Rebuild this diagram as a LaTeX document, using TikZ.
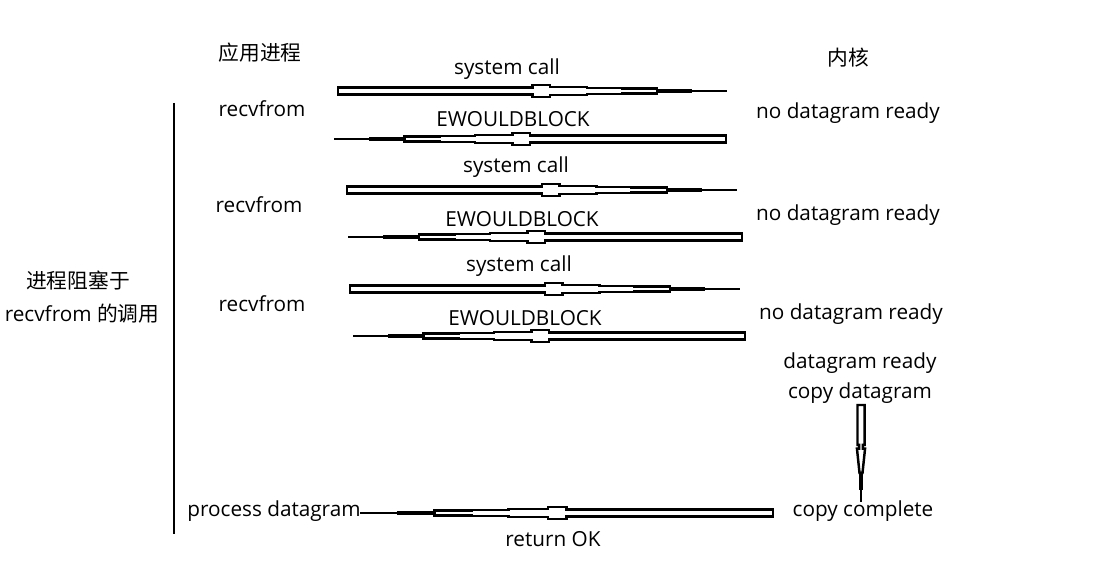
\documentclass[tikz,border=0pt]{standalone}
\usepackage{fontspec}
\setmainfont{Open Sans}
\newfontfamily\cjk{Noto Sans CJK SC}
\usetikzlibrary{calc}

% hollow hand-drawn arrow, wide at the tail #1, thin at the head #2
\newcommand{\pipe}[2]{%
  \draw[pipe out] let \p1=(#1), \p2=(#2),
      \n1={atan2(\y2-\y1,\x2-\x1)}, \n2={veclen(\x2-\x1,\y2-\y1)} in
    [shift={(\p1)},rotate=\n1]
    (0pt,2.0pt) -- ({0.50*\n2},2.0pt) -- ({0.50*\n2},3.5pt) -- ({0.545*\n2},3.5pt)
    -- ({0.545*\n2},2.3pt) -- ({0.64*\n2},2.3pt) -- ({0.64*\n2},1.8pt) -- ({0.73*\n2},1.8pt)
    -- ({0.73*\n2},1.3pt) -- ({0.82*\n2},1.3pt)
    -- ({0.82*\n2},-1.3pt) -- ({0.73*\n2},-1.3pt) -- ({0.73*\n2},-1.8pt) -- ({0.64*\n2},-1.8pt)
    -- ({0.64*\n2},-2.3pt) -- ({0.545*\n2},-2.3pt) -- ({0.545*\n2},-3.5pt) -- ({0.50*\n2},-3.5pt)
    -- ({0.50*\n2},-2.0pt) -- (0pt,-2.0pt) -- cycle
    ({0.82*\n2},0pt) coordinate (pipeA) ({0.91*\n2},0pt) coordinate (pipeB) (\n2,0pt) coordinate (pipeC);
  \draw[line width=2.6pt] (pipeA) -- (pipeB);
  \draw[line width=1.4pt] (pipeB) -- (pipeC);
}

% the short one going down, with a pointed hollow head
\newcommand{\droparrow}[2]{%
  \draw[pipe out] let \p1=(#1), \p2=(#2),
      \n1={atan2(\y2-\y1,\x2-\x1)}, \n2={veclen(\x2-\x1,\y2-\y1)} in
    [shift={(\p1)},rotate=\n1]
    (0pt,2.0pt) -- ({0.41*\n2},2.0pt) -- ({0.41*\n2},1.1pt) -- ({0.45*\n2},1.1pt)
    -- ({0.45*\n2},2.3pt) -- ({0.70*\n2},0.85pt) -- ({0.70*\n2},-0.85pt) -- ({0.45*\n2},-2.3pt)
    -- ({0.45*\n2},-1.1pt) -- ({0.41*\n2},-1.1pt) -- ({0.41*\n2},-2.0pt) -- (0pt,-2.0pt) -- cycle
    ({0.70*\n2},0pt) coordinate (pipeA) ({0.88*\n2},0pt) coordinate (pipeB) (\n2,0pt) coordinate (pipeC);
  \draw[line width=2.3pt] (pipeA) -- (pipeB);
  \draw[line width=1.4pt] (pipeB) -- (pipeC);
}

\begin{document}
\begin{tikzpicture}[x=0.02cm,y=-0.02cm,font=\fontsize{11.8}{14}\selectfont,
      pipe out/.style={draw,fill=white,line width=1.4pt,line join=miter}]
  \useasboundingbox (0,0) rectangle (1105,567);

  \node (app) at (260,53) {\cjk 应用进程};
  \node (kern) at (848,58) {\cjk 内核};

  % first try
  \node (call1) at (507,69) {system call};
  \node (recv1) at (262,109) {recvfrom};
  \node (idle1) at (848,113) {no datagram ready};
  \node (wb1) at (513,119) {EWOULDBLOCK};
  \coordinate (s1) at (338,91);  \coordinate (k1) at (727,91);
  \coordinate (b1) at (726,139); \coordinate (r1) at (334,139);
  \pipe{s1}{k1} \pipe{b1}{r1}

  % second try
  \node (call2) at (516,167) {system call};
  \node (recv2) at (259,205) {recvfrom};
  \node (idle2) at (848,215) {no datagram ready};
  \node (wb2) at (522,219) {EWOULDBLOCK};
  \coordinate (s2) at (347,190); \coordinate (k2) at (737,190);
  \coordinate (b2) at (742,237); \coordinate (r2) at (348,237);
  \pipe{s2}{k2} \pipe{b2}{r2}

  % third try
  \node (call3) at (519,266) {system call};
  \node (recv3) at (262,304) {recvfrom};
  \node (idle3) at (851,314) {no datagram ready};
  \node (wb3) at (525,318) {EWOULDBLOCK};
  \coordinate (s3) at (350,289); \coordinate (k3) at (740,289);
  \coordinate (b3) at (745,336); \coordinate (r3) at (353,336);
  \pipe{s3}{k3} \pipe{b3}{r3}

  % datagram arrives
  \node (ready) at (860,363) {datagram ready};
  \node (copy) at (860,393) {copy datagram};
  \node (done) at (863,511) {copy complete};
  \node (proc) at (274,511) {process datagram};
  \node (ok) at (553,539) {return OK};
  \coordinate (d1) at (861,405); \coordinate (d2) at (861,502);
  \droparrow{d1}{d2}
  \coordinate (b4) at (773,513); \coordinate (r4) at (360,513);
  \pipe{b4}{r4}

  % blocked span
  \draw[line width=1.7pt] (174,103) -- (174,534);
  \node (blk) at (78,281) {\cjk 进程阻塞于};
  \node (blk2) at (82,314) {recvfrom {\cjk 的调用}};
\end{tikzpicture}
\end{document}
